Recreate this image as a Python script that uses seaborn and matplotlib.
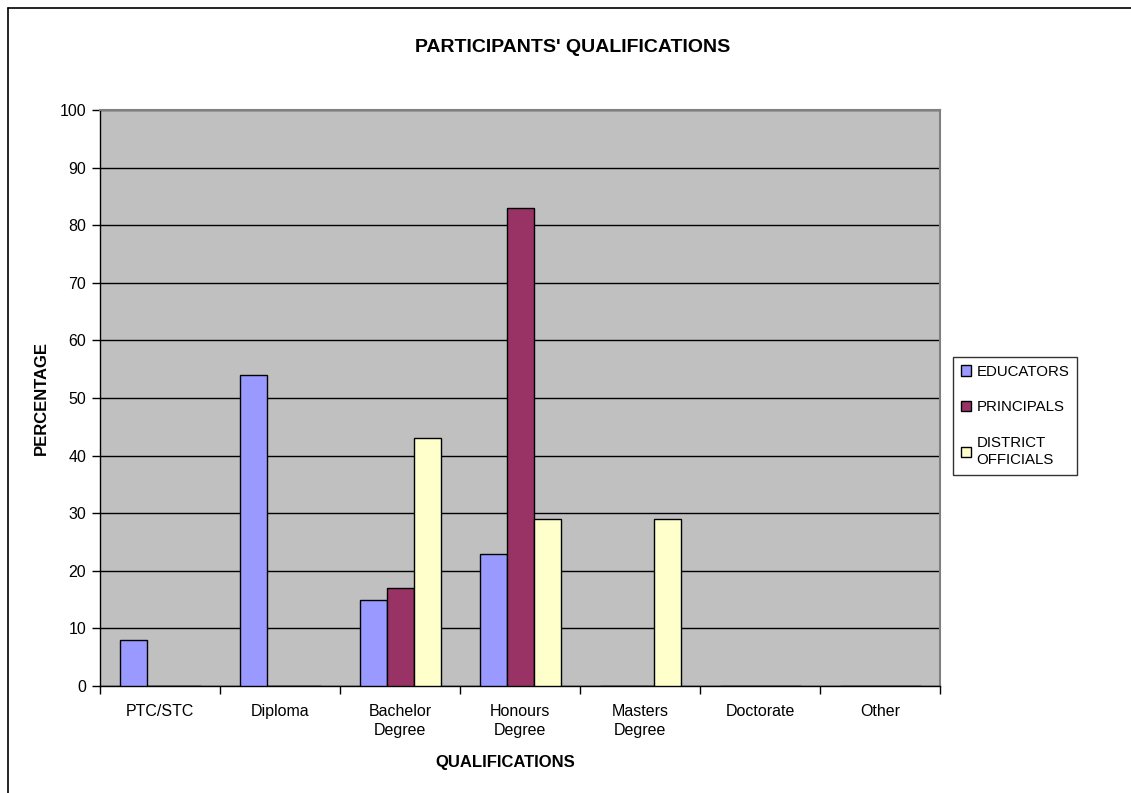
import matplotlib
matplotlib.use("Agg")
import matplotlib.pyplot as plt
from matplotlib.lines import Line2D
import pandas as pd
import seaborn as sns

categories = ["PTC/STC", "Diploma", "Bachelor\nDegree", "Honours\nDegree",
              "Masters\nDegree", "Doctorate", "Other"]
groups = ["EDUCATORS", "PRINCIPALS", "DISTRICT\nOFFICIALS"]
educators = [8, 54, 15, 23, 0, 0, 0]
principals = [0, 0, 17, 83, 0, 0, 0]
district_officials = [0, 0, 43, 29, 29, 0, 0]
colors = ["#9999FF", "#993366", "#FFFFCC"]

rows = []
for grp, vals in zip(groups, [educators, principals, district_officials]):
    for cat, v in zip(categories, vals):
        rows.append({"Qualification": cat, "Group": grp, "Percentage": v})
df = pd.DataFrame(rows)

sns.set_style("white")
plt.rcParams["font.family"] = ["Liberation Sans", "DejaVu Sans"]
plt.rcParams["text.color"] = "black"
plt.rcParams["xtick.color"] = "black"
plt.rcParams["ytick.color"] = "black"
plt.rcParams["xtick.labelcolor"] = "black"
plt.rcParams["ytick.labelcolor"] = "black"

fig = plt.figure(figsize=(11.31, 7.93), dpi=100)
ax = fig.add_axes([100 / 1131, 1 - 686 / 793, 840 / 1131, 576 / 793])
ax.set_facecolor("#C0C0C0")

sns.barplot(data=df, x="Qualification", y="Percentage", hue="Group",
            order=categories, hue_order=groups, palette=colors,
            saturation=1, width=0.675, edgecolor="black", linewidth=1,
            ax=ax, zorder=3)

ax.set_ylim(0, 100)
ax.set_xlim(-0.5, len(categories) - 0.5)
ax.set_yticks(range(0, 101, 10))
ax.yaxis.grid(True, color="black", linewidth=1)
ax.set_axisbelow(True)

# category boundaries carry the x tick marks
ax.set_xticks([i - 0.5 for i in range(len(categories) + 1)], minor=True)
ax.tick_params(axis="x", which="major", length=0, pad=13, labelsize=11.5)
ax.tick_params(axis="x", which="minor", length=6, width=1, color="black",
               direction="out", bottom=True)
ax.tick_params(axis="y", length=6, width=1, color="black", direction="out",
               left=True, labelsize=11.5, pad=4)
for lbl in ax.get_xticklabels():
    lbl.set_linespacing(1.3)

for side in ["left", "bottom"]:
    ax.spines[side].set_color("black")
    ax.spines[side].set_linewidth(1)
for side in ["top", "right"]:
    ax.spines[side].set_visible(True)
    ax.spines[side].set_color("#808080")
    ax.spines[side].set_linewidth(1.5)

ax.set_xlabel("")
ax.set_ylabel("")

fig.text(573 / 1131, 1 - 48 / 793, "PARTICIPANTS' QUALIFICATIONS",
         ha="center", va="center", fontsize=14, fontweight="bold")
fig.text(505 / 1131, 1 - 762 / 793, "QUALIFICATIONS",
         ha="center", va="center", fontsize=12, fontweight="bold")
fig.text(41 / 1131, 1 - 398 / 793, "PERCENTAGE", rotation=90,
         ha="center", va="center", fontsize=12, fontweight="bold")

handles, labels = ax.get_legend_handles_labels()
leg = ax.legend(handles, labels, loc="upper left",
                bbox_to_anchor=(953 / 1131, 1 - 357 / 793),
                bbox_transform=fig.transFigure, frameon=True, fancybox=False,
                fontsize=10.8, handlelength=0.7, handleheight=0.7,
                handletextpad=0.35, labelspacing=1.45, borderpad=0.5,
                borderaxespad=0)
leg.get_frame().set_edgecolor("black")
leg.get_frame().set_linewidth(1)
leg.get_frame().set_facecolor("white")
for t in leg.get_texts():
    t.set_color("black")
    t.set_linespacing(1.3)

# chart area border
fig.add_artist(Line2D([8 / 1131, 8 / 1131], [0, 1 - 8 / 793],
                      transform=fig.transFigure, color="black", linewidth=1.2))
fig.add_artist(Line2D([8 / 1131, 1], [1 - 8 / 793, 1 - 8 / 793],
                      transform=fig.transFigure, color="black", linewidth=1.2))

fig.savefig("out.png", dpi=100)
